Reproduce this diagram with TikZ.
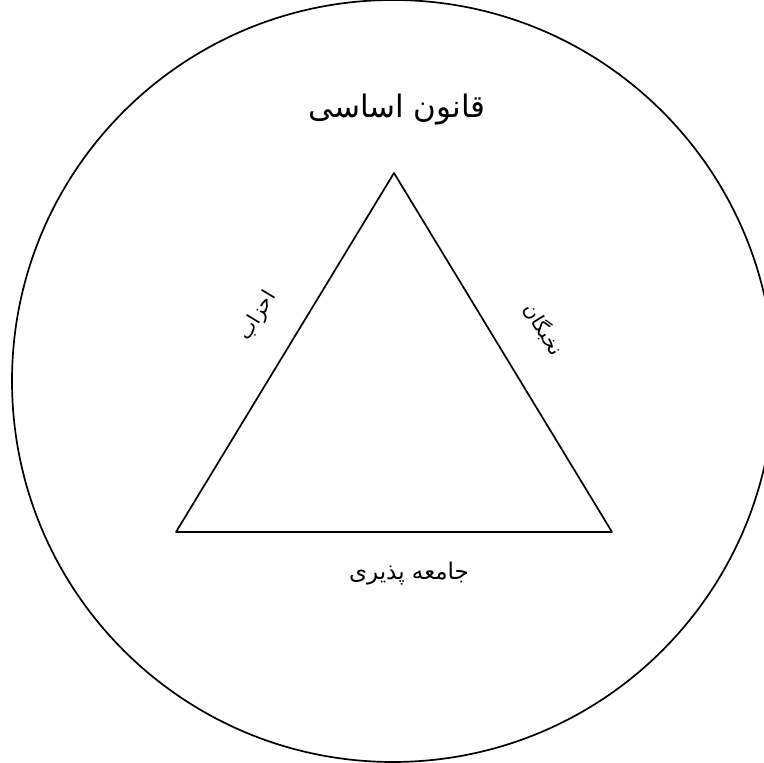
\documentclass[tikz,border=0pt]{standalone}
\usepackage{fontspec}
\usepackage{tikz}
\usetikzlibrary{calc, positioning}
\TeXXeTstate=1
\newfontfamily\persianfont[Script=Arabic]{DejaVu Sans}

\begin{document}
\begin{tikzpicture}[x=1pt, y=1pt, line join=round, line cap=round,
    edge/.style={line width=1.7pt},
    label/.style={inner sep=0pt, font=\persianfont}]
    % Khung: 764 x 763
    \useasboundingbox (0,0) rectangle (764,763);
    \clip (0,0) rectangle (764,763);

    % Đường tròn lớn
    \draw[edge] (393,382) circle (381);

    % Tam giác
    \coordinate (top) at (394,590);
    \coordinate (left) at (176,231);
    \coordinate (right) at (612,231);
    \draw[edge] (top) -- (left) -- (right) -- cycle;

    % Nhãn
    \node[label, font=\persianfont\fontsize{31}{36}\selectfont] (qanun) at (397,653) {\beginR قانون اساسی\endR};
    \node[label, font=\persianfont\fontsize{23}{27}\selectfont] (jameh) at (409,189) {\beginR جامعه پذیری\endR};
    \node[label, font=\persianfont\fontsize{20}{24}\selectfont, rotate=58.7] (ahzab) at (258,447) {\beginR احزاب\endR};
    \node[label, font=\persianfont\fontsize{20}{24}\selectfont, rotate=-58.7] (nokhbe) at (544,434) {\beginR نخبگان\endR};
\end{tikzpicture}
\end{document}
